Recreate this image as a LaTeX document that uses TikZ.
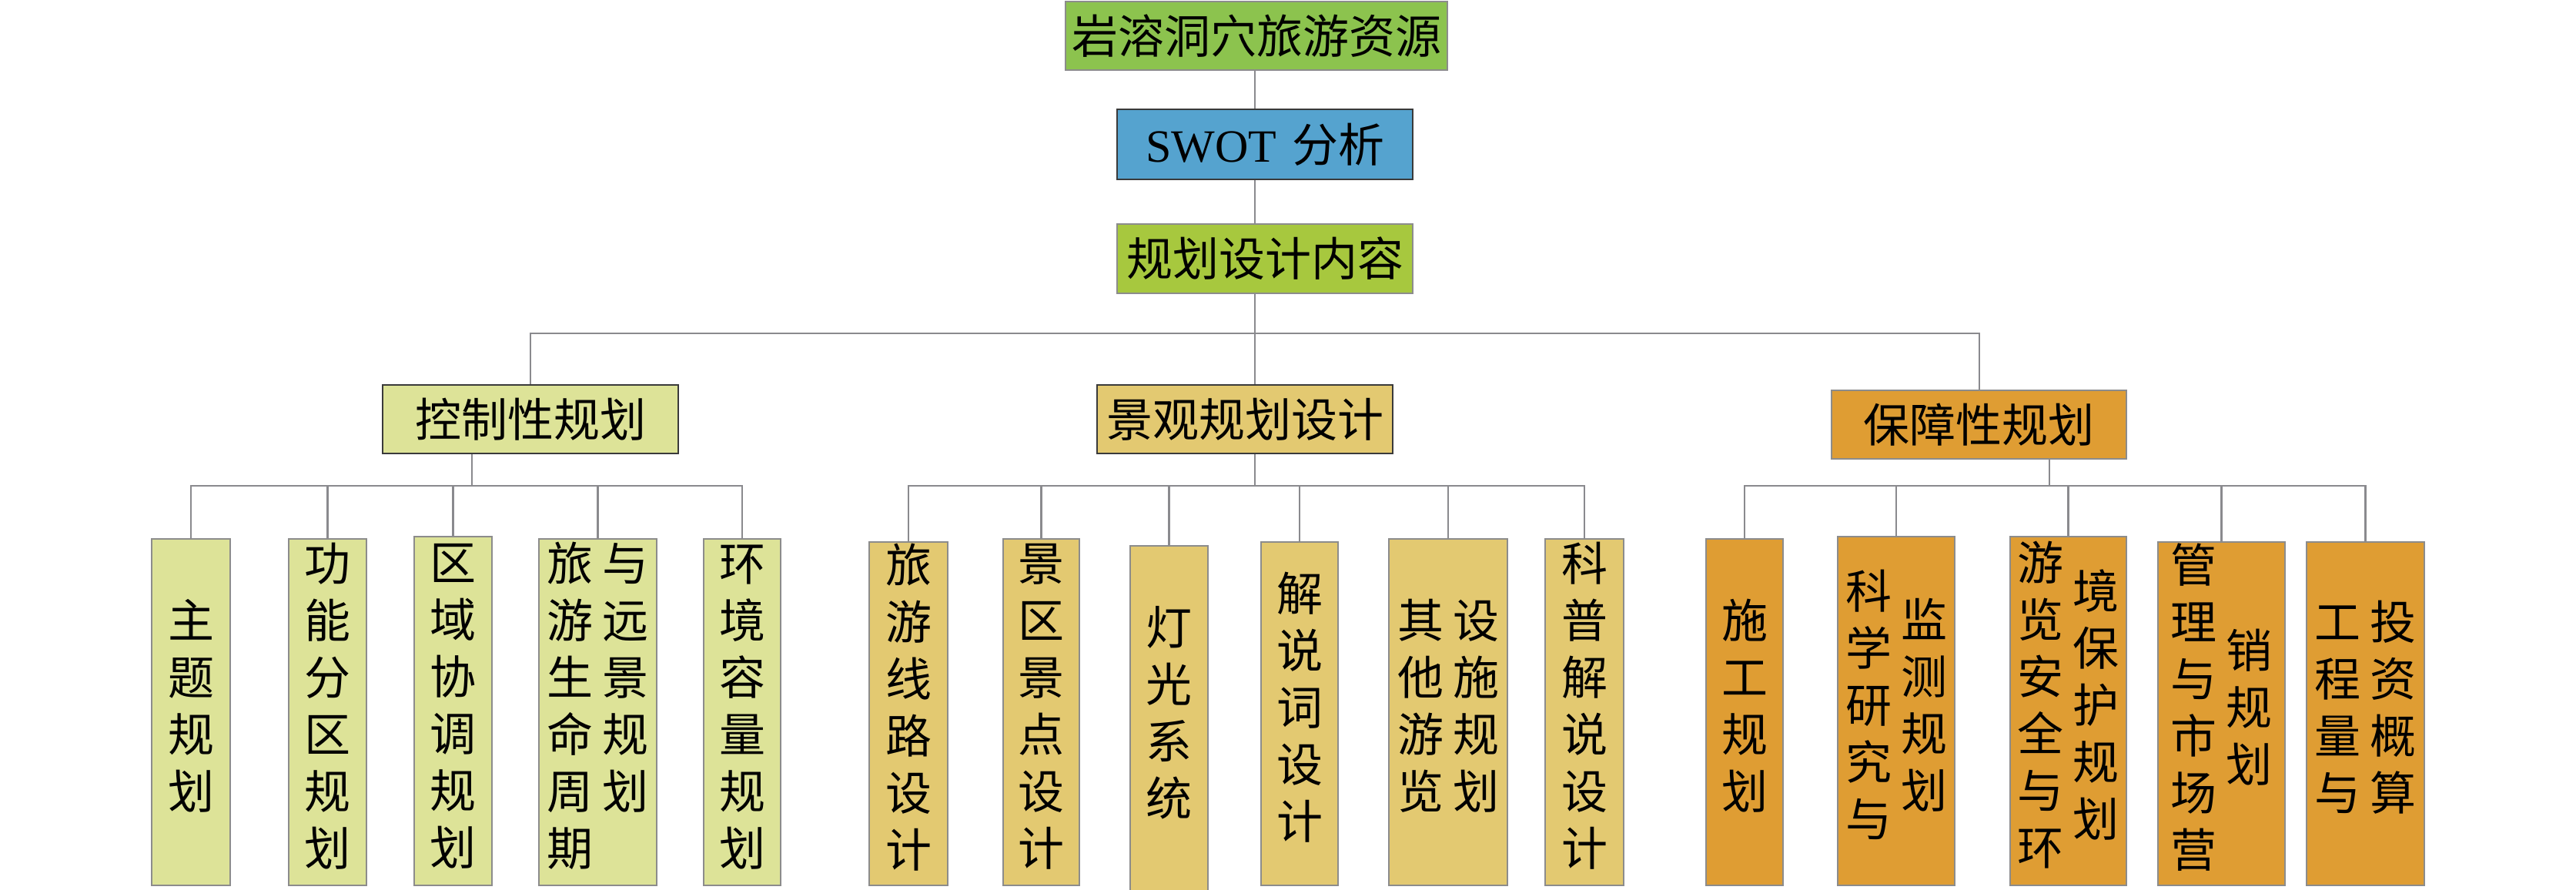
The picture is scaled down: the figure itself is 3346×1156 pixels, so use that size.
\documentclass[tikz,border=0pt]{standalone}
\usepackage{fontspec}
\setmainfont{Liberation Serif}
\newfontfamily\cjk{Noto Sans CJK SC}
\definecolor{topgreen}{HTML}{8CC34E}
\definecolor{swotblue}{HTML}{55A3CF}
\definecolor{plangreen}{HTML}{A7C83E}
\definecolor{ctrlfill}{HTML}{DDE398}
\definecolor{landfill}{HTML}{E3C971}
\definecolor{guarfill}{HTML}{DF9D33}
\definecolor{linegray}{HTML}{8A8A8E}
\definecolor{leafborder}{HTML}{8C8C8C}
\definecolor{headborder}{HTML}{3A3A3A}
\newcommand\vcol[2][c]{\begin{tabular}[#1]{@{}c@{}}#2\end{tabular}}
\newcommand\colgap{\hspace{12pt}}
\tikzset{
  box/.style={inner sep=0pt, line width=2pt, text=black,
    font=\cjk\fontsize{60}{74}\selectfont, anchor=center},
  head/.style={box, draw=headborder},
  leaf/.style={box, draw=leafborder},
  link/.style={draw=linegray, line width=2.5pt},
}
\begin{document}
\begin{tikzpicture}[x=1pt,y=-1pt]
\useasboundingbox (0,0) rectangle (3346,1156);
% top column
\node[box, draw=leafborder, fill=topgreen, minimum width=496pt, minimum height=89pt] (top) at (1632,46.5) {岩溶洞穴旅游资源};
\node[head, fill=swotblue, minimum width=384pt, minimum height=91pt] (swot) at (1643,187.5) {{\rmfamily SWOT}\hspace{20pt}分析};
\node[box, draw=leafborder, fill=plangreen, minimum width=384pt, minimum height=90pt] (plan) at (1643,336) {规划设计内容};
\coordinate (spine) at (1630,433);
% level 2
\node[head, fill=ctrlfill, minimum width=384pt, minimum height=89pt] (ctrl) at (689,544.5) {控制性规划};
\node[head, fill=landfill, minimum width=384pt, minimum height=89pt] (land) at (1617,544.5) {景观规划设计};
\node[box, draw=leafborder, fill=guarfill, minimum width=383pt, minimum height=89pt] (guar) at (2570.5,551.5) {保障性规划};
\coordinate (ctrlleft) at (689,433);
\coordinate (guarright) at (2571,433);
\coordinate (cj) at (613,631);
\coordinate (lj) at (1630,631);
\coordinate (gj) at (2662,631);
% control leaves
\node[leaf, fill=ctrlfill, minimum width=102pt, minimum height=450pt] (c1) at (248,925) {\vcol{主\\题\\规\\划}};
\node[leaf, fill=ctrlfill, minimum width=101pt, minimum height=450pt] (c2) at (425.5,925) {\vcol{功\\能\\分\\区\\规\\划}};
\node[leaf, fill=ctrlfill, minimum width=101pt, minimum height=453pt] (c3) at (588.5,923.5) {\vcol{区\\域\\协\\调\\规\\划}};
\node[leaf, fill=ctrlfill, minimum width=153pt, minimum height=450pt] (c4) at (776.5,925) {\vcol[t]{旅\\游\\生\\命\\周\\期}\colgap\vcol[t]{与\\远\\景\\规\\划}};
\node[leaf, fill=ctrlfill, minimum width=100pt, minimum height=450pt] (c5) at (964,925) {\vcol{环\\境\\容\\量\\规\\划}};
% landscape leaves
\node[leaf, fill=landfill, minimum width=102pt, minimum height=446pt] (l1) at (1180,927) {\vcol{旅\\游\\线\\路\\设\\计}};
\node[leaf, fill=landfill, minimum width=99pt, minimum height=450pt] (l2) at (1352.5,925) {\vcol{景\\区\\景\\点\\设\\计}};
\node[leaf, fill=landfill, minimum width=101pt, minimum height=450pt] (l3) at (1518.5,934) {\vcol{灯\\光\\系\\统}};
\node[leaf, fill=landfill, minimum width=100pt, minimum height=446pt] (l4) at (1688,927) {\vcol{解\\说\\词\\设\\计}};
\node[leaf, fill=landfill, minimum width=154pt, minimum height=450pt] (l5) at (1881,925) {\vcol{其\\他\\游\\览}\colgap\vcol{设\\施\\规\\划}};
\node[leaf, fill=landfill, minimum width=102pt, minimum height=450pt] (l6) at (2058,925) {\vcol{科\\普\\解\\说\\设\\计}};
% guarantee leaves
\node[leaf, fill=guarfill, minimum width=100pt, minimum height=450pt] (g1) at (2266,925) {\vcol{施\\工\\规\\划}};
\node[leaf, fill=guarfill, minimum width=152pt, minimum height=453pt] (g2) at (2463,923.5) {\vcol{科\\学\\研\\究\\与}\colgap\vcol{监\\测\\规\\划}};
\node[leaf, fill=guarfill, minimum width=151pt, minimum height=453pt] (g3) at (2686.5,923.5) {\vcol{游\\览\\安\\全\\与\\环}\colgap\vcol{境\\保\\护\\规\\划}};
\node[leaf, fill=guarfill, minimum width=165pt, minimum height=446pt] (g4) at (2885.5,927) {\vcol{管\\理\\与\\市\\场\\营}\colgap\vcol{销\\规\\划}};
\node[leaf, fill=guarfill, minimum width=153pt, minimum height=446pt] (g5) at (3072.5,927) {\vcol{工\\程\\量\\与}\colgap\vcol{投\\资\\概\\算}};
% connectors: spine
\draw[link] (top.south -| spine) -- (swot.north -| spine);
\draw[link] (swot.south -| spine) -- (plan.north -| spine);
\draw[link] (plan.south -| spine) -- (spine);
\draw[link] (ctrl.north -| ctrlleft) |- (guarright) -- (guar.north -| guarright);
\draw[link] (spine) -- (land.north -| spine);
% control group
\draw[link] (ctrl.south -| cj) -- (cj);
\draw[link] (c1.north) |- (cj);
\draw[link] (c5.north) |- (cj);
\foreach \n in {c2,c3,c4} \draw[link] (\n.north) -- (\n.north |- cj);
% landscape group
\draw[link] (land.south -| lj) -- (lj);
\draw[link] (l1.north) |- (lj);
\draw[link] (l6.north) |- (lj);
\foreach \n in {l2,l3,l4,l5} \draw[link] (\n.north) -- (\n.north |- lj);
% guarantee group
\draw[link] (guar.south -| gj) -- (gj);
\draw[link] (g1.north) |- (gj);
\draw[link] (g5.north) |- (gj);
\foreach \n in {g2,g3,g4} \draw[link] (\n.north) -- (\n.north |- gj);
\end{tikzpicture}
\end{document}
